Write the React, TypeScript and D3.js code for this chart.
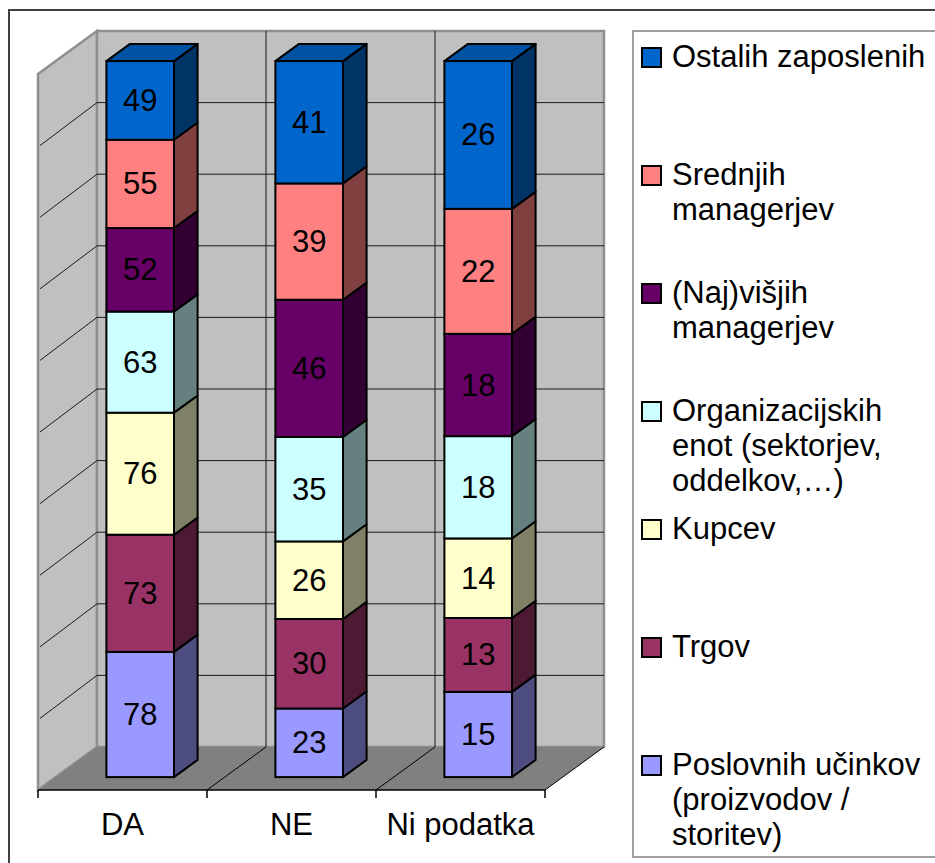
import React from 'react';
import * as d3 from 'd3';

// Categories on the horizontal axis
const categories = ['DA', 'NE', 'Ni podatka'];

// Series, listed bottom-to-top in the stack
const seriesKeys = ['poslovnih', 'trgov', 'kupcev', 'organizacijskih', 'najvisjih', 'srednjih', 'ostalih'];

// Legend text for each series (already broken into lines)
const seriesLabels: string[][] = [
  ['Poslovnih učinkov', '(proizvodov /', 'storitev)'],
  ['Trgov'],
  ['Kupcev'],
  ['Organizacijskih', 'enot (sektorjev,', 'oddelkov,…)'],
  ['(Naj)višjih', 'managerjev'],
  ['Srednjih', 'managerjev'],
  ['Ostalih zaposlenih'],
];

// Values per category (DA, NE, Ni podatka)
const poslovnih = [78, 23, 15];
const trgov = [73, 30, 13];
const kupcev = [76, 26, 14];
const organizacijskih = [63, 35, 18];
const najvisjih = [52, 46, 18];
const srednjih = [55, 39, 22];
const ostalih = [49, 41, 26];

const seriesValues = [poslovnih, trgov, kupcev, organizacijskih, najvisjih, srednjih, ostalih];

const seriesColors = ['#9999FF', '#993366', '#FFFFCC', '#CCFFFF', '#660066', '#FF8080', '#0066CC'];

const W = 935;
const H = 863;
const FONT = '"Liberation Sans", Arial, Helvetica, sans-serif';
const FS = 31;

// Oblique projection of the 3D box
const FRONT_LEFT = 38;
const FRONT_RIGHT = 545;
const FLOOR_Y = 790;
const TOP_Y = 74;
const DX = 59;
const DY = 43;
const BAR_D0 = 0.3;
const BAR_D1 = 0.7;

function shade(c: string, k: number) {
  const r = d3.rgb(c);
  return d3.rgb(r.r * k, r.g * k, r.b * k).formatHex();
}

export default function App() {
  const rows = categories.map((cat, i) => {
    const row: Record<string, any> = { cat };
    seriesKeys.forEach((k, s) => (row[k] = seriesValues[s][i]));
    return row;
  });
  const stacked = d3.stack<Record<string, any>>().keys(seriesKeys).offset(d3.stackOffsetExpand)(rows);

  const x = d3
    .scaleBand<string>()
    .domain(categories)
    .range([FRONT_LEFT, FRONT_RIGHT])
    .paddingInner(0.6)
    .paddingOuter(0.3);
  const y = d3.scaleLinear().domain([0, 1]).range([FLOOR_Y, TOP_Y]);
  const step = x.step();
  const bw = x.bandwidth();
  const pts = (arr: [number, number][]) => arr.map((p) => p.join(',')).join(' ');

  const backL = FRONT_LEFT + DX;
  const backR = FRONT_RIGHT + DX;
  const backTop = TOP_Y - DY;
  const backBot = FLOOR_Y - DY;

  const gridTicks = y.ticks(10).filter((t) => t > 0 && t < 1);
  // category boundaries on the front edge of the floor
  const boundaries = categories.map((c) => (x(c) as number) + bw / 2 - step / 2);
  boundaries.push(FRONT_RIGHT);

  const wallStroke = '#8f8f8f';
  const bd = BAR_D1 - BAR_D0;

  const legendX = 642;
  const legendTextX = 672;
  const legendBase0 = 67;
  const legendStep = 118;
  const lineH = 35;

  return (
    <svg
      width={W}
      height={H}
      style={{ position: 'absolute', left: 0, top: 0, background: '#fff' }}
      fontFamily={FONT}
    >
      {/* chart frame */}
      <rect x={9} y={10} width={1000} height={1000} fill="#fff" stroke="#404040" strokeWidth={2} />

      {/* walls */}
      <polygon
        points={pts([[FRONT_LEFT, TOP_Y], [backL, backTop], [backL, backBot], [FRONT_LEFT, FLOOR_Y]])}
        fill="#C0C0C0"
        stroke={wallStroke}
        strokeWidth={2.5}
      />
      <rect x={backL} y={backTop} width={backR - backL} height={backBot - backTop} fill="#C0C0C0" stroke={wallStroke} strokeWidth={2.5} />

      {/* gridlines */}
      {gridTicks.map((t) => (
        <g key={t}>
          <line x1={backL} x2={backR} y1={y(t) - DY} y2={y(t) - DY} stroke="#1a1a1a" strokeWidth={1} />
          <line x1={FRONT_LEFT + 2} x2={backL} y1={y(t)} y2={y(t) - DY} stroke="#1a1a1a" strokeWidth={1} />
        </g>
      ))}
      {boundaries.slice(1, -1).map((b) => (
        <line key={b} x1={b + DX} x2={b + DX} y1={backTop} y2={backBot} stroke="#1a1a1a" strokeWidth={1} />
      ))}

      {/* floor */}
      <polygon
        points={pts([[FRONT_LEFT, FLOOR_Y], [FRONT_RIGHT, FLOOR_Y], [backR, backBot], [backL, backBot]])}
        fill="#808080"
      />
      {boundaries.slice(1).map((b) => (
        <line key={'f' + b} x1={b} y1={FLOOR_Y} x2={b + DX} y2={backBot} stroke="#000" strokeWidth={1} />
      ))}
      <line x1={FRONT_LEFT} x2={FRONT_RIGHT} y1={FLOOR_Y} y2={FLOOR_Y} stroke="#000" strokeWidth={1.5} />
      {boundaries.map((b) => (
        <line key={'t' + b} x1={b} x2={b} y1={FLOOR_Y} y2={FLOOR_Y + 8} stroke="#000" strokeWidth={1.5} />
      ))}

      {/* bars */}
      {categories.map((cat, ci) => {
        const x0 = (x(cat) as number) + BAR_D0 * DX;
        const x1 = x0 + bw;
        return (
          <g key={cat}>
            {stacked.map((layer, si) => {
              const seg = layer[ci];
              const yt = y(seg[1]) - BAR_D0 * DY;
              const yb = y(seg[0]) - BAR_D0 * DY;
              const col = seriesColors[si];
              const isTop = si === stacked.length - 1;
              return (
                <g key={si}>
                  <rect x={x0} y={yt} width={bw} height={yb - yt} fill={col} stroke="#000" strokeWidth={2} />
                  <polygon
                    points={pts([[x1, yt], [x1 + bd * DX, yt - bd * DY], [x1 + bd * DX, yb - bd * DY], [x1, yb]])}
                    fill={shade(col, 0.5)}
                    stroke="#000"
                    strokeWidth={2}
                    strokeLinejoin="round"
                  />
                  {isTop && (
                    <polygon
                      points={pts([[x0, yt], [x0 + bd * DX, yt - bd * DY], [x1 + bd * DX, yt - bd * DY], [x1, yt]])}
                      fill={shade(col, 0.8)}
                      stroke="#000"
                      strokeWidth={2}
                      strokeLinejoin="round"
                    />
                  )}
                  <text
                    x={x0 + bw / 2}
                    y={(yt + yb) / 2}
                    textAnchor="middle"
                    dominantBaseline="central"
                    fontSize={FS}
                    fill="#000"
                  >
                    {seriesValues[si][ci]}
                  </text>
                </g>
              );
            })}
          </g>
        );
      })}

      {/* category labels */}
      {categories.map((cat) => (
        <text key={cat} x={(x(cat) as number) + bw / 2} y={835} textAnchor="middle" fontSize={FS} fill="#000">
          {cat}
        </text>
      ))}

      {/* legend */}
      <rect x={633} y={31} width={400} height={826} fill="#fff" stroke="#808080" strokeWidth={1.5} />
      {seriesKeys
        .map((k, i) => i)
        .reverse()
        .map((si, li) => {
          const base = legendBase0 + li * legendStep;
          return (
            <g key={si}>
              <rect x={legendX} y={base - 19} width={19} height={19} fill={seriesColors[si]} stroke="#000" strokeWidth={2} />
              <text x={legendTextX} y={base} fontSize={FS} fill="#000">
                {seriesLabels[si].map((ln, j) => (
                  <tspan key={j} x={legendTextX} y={base + j * lineH}>
                    {ln}
                  </tspan>
                ))}
              </text>
            </g>
          );
        })}
    </svg>
  );
}
